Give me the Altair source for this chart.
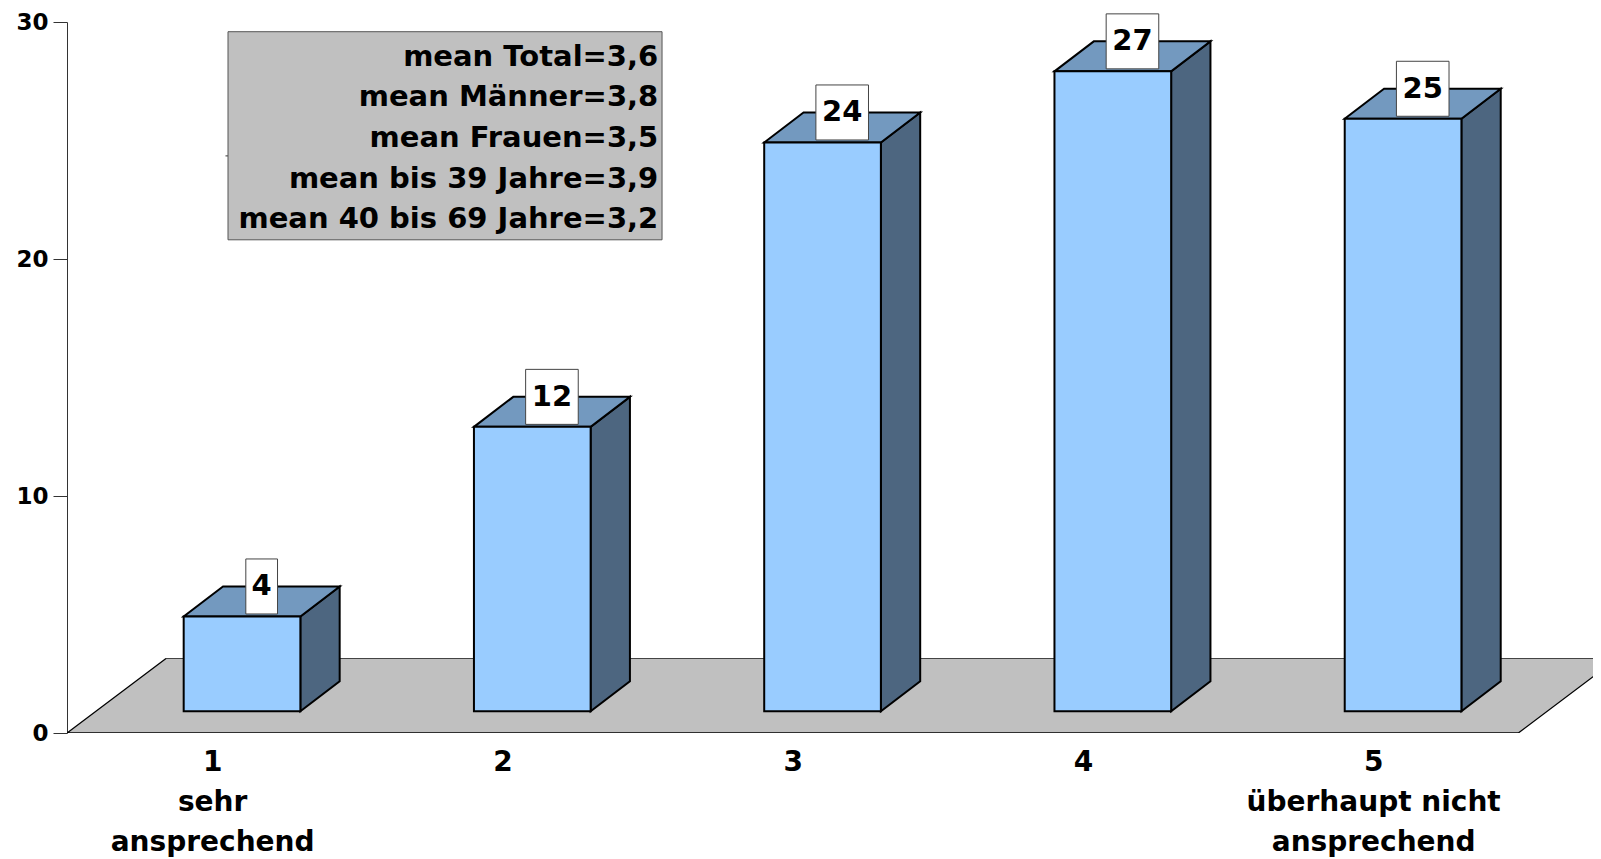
import json
import altair as alt
import pandas as pd

# ---- values ----
categories = [1, 2, 3, 4, 5]
values = [4, 12, 24, 27, 25]
value_labels = ["4", "12", "24", "27", "25"]
x_labels = [["1", "sehr", "ansprechend"], ["2"], ["3"], ["4"], ["5", "überhaupt nicht", "ansprechend"]]
y_ticks = [0, 10, 20, 30]
mean_lines = ["mean Total=3,6", "mean Männer=3,8", "mean Frauen=3,5",
              "mean bis 39 Jahre=3,9", "mean 40 bis 69 Jahre=3,2"]

# ---- pseudo-3D geometry in data units ----
PLOT_W = 1526
PLOT_H = 711
PX_X = 290.26
PX_Y = PLOT_H / 30
X0 = 0.5
XMAX = X0 + PLOT_W / PX_X
BASE = 0.917
DX = 39.3 / PX_X
DY = 30 / PX_Y
BAR_L = -0.098
BAR_R = 0.304
FLOOR_DX = 99 / PX_X
FLOOR_H = 74.5 / PX_Y

FONT = "DejaVu Sans"
FRONT, TOP, SIDE, FLOOR = "#99CCFF", "#7399BF", "#4D6680", "#C0C0C0"

xs = alt.Scale(domain=[X0, XMAX], nice=False, zero=False)
ys = alt.Scale(domain=[0, 30], nice=False, zero=False)

x_axis = alt.Axis(values=categories, ticks=False, domain=False, grid=False,
                  labelExpr=json.dumps(x_labels) + "[datum.value-1]",
                  labelFont=FONT, labelFontWeight="bold", labelFontSize=28,
                  labelColor="black", labelPadding=15, labelLineHeight=40, labelLimit=500,
                  labelAlign="center", labelBaseline="top", labelOverlap=False,
                  labelBound=False, labelFlush=False)
y_axis = alt.Axis(values=y_ticks, grid=False, tickSize=14, tickColor="#333333", tickWidth=1,
                  domainColor="#333333", domainWidth=1, labelFont=FONT, labelFontWeight="bold",
                  labelFontSize=23, labelColor="black", labelPadding=5)


def X(f="x"):
    return alt.X(f"{f}:Q", scale=xs, axis=x_axis, title=None)


def Y(f="y"):
    return alt.Y(f"{f}:Q", scale=ys, axis=y_axis, title=None)


front, side, top, boxes = [], [], [], []
for c, v, lab in zip(categories, values, value_labels):
    l, r, t = c + BAR_L, c + BAR_R, BASE + v
    front.append(dict(x=l, x2=r, y=BASE, y2=t))
    side += [dict(c=c, x=r, y=t, y2=BASE), dict(c=c, x=r + DX, y=t + DY, y2=BASE + DY)]
    top += [dict(c=c, y=t, x=l, x2=r), dict(c=c, y=t + DY, x=l + DX, x2=r + DX)]
    cx = (l + r + DX) / 2
    cy = t + DY
    hw = (26.3 if len(lab) > 1 else 15.85) / PX_X
    hh = 27.5 / PX_Y
    boxes.append(dict(x=cx - hw, x2=cx + hw, y=cy - hh, y2=cy + hh, cx=cx, cy=cy, label=lab))

floor_df = pd.DataFrame([dict(y=0, x=X0, x2=X0 + 5),
                         dict(y=FLOOR_H, x=X0 + FLOOR_DX, x2=X0 + 5 + FLOOR_DX)])
floor = alt.Chart(floor_df).mark_area(orient="horizontal", fill=FLOOR, clip=True).encode(
    x=X("x"), x2="x2:Q", y=Y("y"))

outline_df = pd.DataFrame([
    dict(i=0, x=X0 + FLOOR_DX, y=FLOOR_H), dict(i=1, x=X0, y=0),
    dict(i=2, x=X0 + 5, y=0), dict(i=3, x=X0 + 5 + FLOOR_DX, y=FLOOR_H)])
outline = alt.Chart(outline_df).mark_line(color="black", strokeWidth=1.3, clip=True).encode(
    x=X(), y=Y(), order="i:Q")
back_edge = alt.Chart(pd.DataFrame([dict(x=X0 + FLOOR_DX, y=FLOOR_H), dict(x=XMAX, y=FLOOR_H)])).mark_line(
    color="#444444", strokeWidth=1, clip=True).encode(x=X(), y=Y())

side_l = alt.Chart(pd.DataFrame(side)).mark_area(fill=SIDE, stroke="black", strokeWidth=2).encode(
    x=X(), y=Y(), y2="y2:Q", detail="c:N")
top_l = alt.Chart(pd.DataFrame(top)).mark_area(orient="horizontal", fill=TOP, stroke="black", strokeWidth=2).encode(
    y=Y(), x=X(), x2="x2:Q", detail="c:N")
front_l = alt.Chart(pd.DataFrame(front)).mark_rect(fill=FRONT, stroke="black", strokeWidth=2).encode(
    x=X(), x2="x2:Q", y=Y(), y2="y2:Q")

box_df = pd.DataFrame(boxes)
box_l = alt.Chart(box_df).mark_rect(fill="white", stroke="#444444", strokeWidth=1).encode(
    x=X(), x2="x2:Q", y=Y(), y2="y2:Q")
box_t = alt.Chart(box_df).mark_text(font=FONT, fontWeight="bold", fontSize=29, color="black",
                                    align="center", baseline="middle").encode(
    x=X("cx"), y=Y("cy"), text="label:N")

# means box, placed in data units
LEG_X, LEG_X2, LEG_Y, LEG_Y2 = 1.0547, 2.55, 20.81, 29.59
leg_box = alt.Chart(pd.DataFrame([dict(x=LEG_X, x2=LEG_X2, y=LEG_Y, y2=LEG_Y2)])).mark_rect(
    fill=FLOOR, stroke="#555555", strokeWidth=1).encode(x=X(), x2="x2:Q", y=Y(), y2="y2:Q")
leg_tick = alt.Chart(pd.DataFrame([dict(x=1.046, x2=LEG_X, y=24.35)])).mark_rule(
    color="#333333", strokeWidth=1).encode(x=X(), x2="x2:Q", y=Y())
leg_df = pd.DataFrame([dict(x=2.537, y=28.54 - i * 1.715, t=t) for i, t in enumerate(mean_lines)])
leg_t = alt.Chart(leg_df).mark_text(font=FONT, fontWeight="bold", fontSize=29, color="black",
                                    align="right", baseline="middle").encode(
    x=X(), y=Y(), text="t:N")

chart = alt.layer(floor, back_edge, outline, side_l, top_l, front_l, box_l, box_t,
                  leg_tick, leg_box, leg_t).properties(
    width=PLOT_W, height=PLOT_H,
    autosize=alt.AutoSizeParams(type="none"),
    padding={"left": 59, "top": 14, "right": 0, "bottom": 126},
    background="white",
).configure_view(stroke=None)

chart.save("out.html", embed_options={"renderer": "svg", "actions": False})
